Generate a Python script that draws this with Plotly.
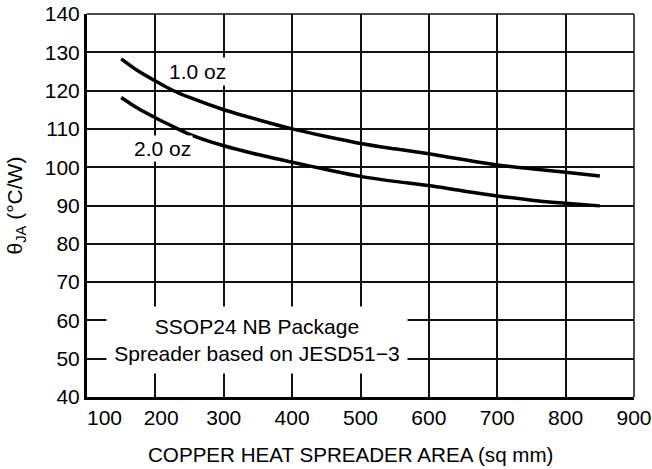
import plotly.graph_objects as go

# Data
area = [150, 175, 200, 225, 250, 300, 350, 400, 450, 500, 550, 600, 650, 700, 750, 800, 850]
theta_1oz = [128.3, 125.1, 122.5, 120.1, 118.2, 115.0, 112.4, 110.0, 108.0, 106.2, 104.8, 103.5, 102.0, 100.6, 99.6, 98.7, 97.7]
theta_2oz = [118.2, 115.3, 112.9, 110.7, 108.6, 105.6, 103.3, 101.3, 99.4, 97.6, 96.3, 95.2, 93.8, 92.5, 91.4, 90.6, 89.9]

x_ticks = [100, 200, 300, 400, 500, 600, 700, 800, 900]
x_tick_labels = ["\u00a0" * 6 + "100", "\u00a0" * 2 + "200", "300", "400", "500", "600", "700", "800", "900"]
y_ticks = [40, 50, 60, 70, 80, 90, 100, 110, 120, 130, 140]
x_title = "COPPER HEAT SPREADER AREA (sq mm)"
y_title = "θ<sub>JA</sub> (°C/W)"

FONT = "Arial, Liberation Sans, Helvetica, sans-serif"

fig = go.Figure()
for ys in (theta_1oz, theta_2oz):
    fig.add_trace(go.Scatter(x=area, y=ys, mode="lines",
                             line=dict(color="black", width=3.5, shape="spline", smoothing=0.8),
                             showlegend=False, hoverinfo="skip"))

fig.update_layout(
    width=652, height=469,
    margin=dict(l=87, r=18, t=14, b=72, autoexpand=False),
    paper_bgcolor="white", plot_bgcolor="white",
    font=dict(family=FONT, size=21, color="black"),
    showlegend=False,
)
fig.update_xaxes(
    range=[100, 900], tickvals=x_ticks, ticktext=x_tick_labels,
    showgrid=True, gridcolor="#111", gridwidth=1.5,
    showline=True, linecolor="black", linewidth=3, zeroline=False,
    ticks="", tickfont=dict(size=21),
    automargin=False,
)
fig.update_yaxes(
    range=[40, 140], tickvals=y_ticks,
    showgrid=True, gridcolor="#111", gridwidth=1.5,
    showline=True, linecolor="black", linewidth=3, zeroline=False,
    ticks="", tickfont=dict(size=21),
    title=dict(text=y_title, font=dict(size=21), standoff=17),
    automargin=False,
)

# x-axis title (slightly left of centre, as in the reference)
fig.add_annotation(x=0.4817, y=-0.149, xref="paper", yref="paper", text=x_title,
                   showarrow=False, font=dict(size=20.6), xanchor="center", yanchor="middle")

# top and right frame edges (thin, like the gridlines)
fig.add_shape(type="line", xref="paper", yref="paper", x0=0, x1=1, y0=1, y1=1,
              line=dict(color="#111", width=1.5))
fig.add_shape(type="line", xref="paper", yref="paper", x0=1, x1=1, y0=0, y1=1,
              line=dict(color="#111", width=1.5))

fig.add_annotation(x=261, y=125.1, xref="x", yref="y", text="1.0 oz", showarrow=False,
                   font=dict(size=21), bgcolor="white", borderpad=2)
fig.add_annotation(x=211, y=104.8, xref="x", yref="y", text="2.0 oz", showarrow=False,
                   font=dict(size=21), bgcolor="white", borderpad=1)
fig.add_annotation(x=348, y=54.9, xref="x", yref="y",
                   text="SSOP24 NB Package<br>Spreader based on JESD51\u22123",
                   showarrow=False, font=dict(size=21), bgcolor="white",
                   width=300, height=66, borderpad=0, align="center")

fig.write_html("out.html", config={"displayModeBar": False},
               post_script="document.body.style.margin='0px';")
